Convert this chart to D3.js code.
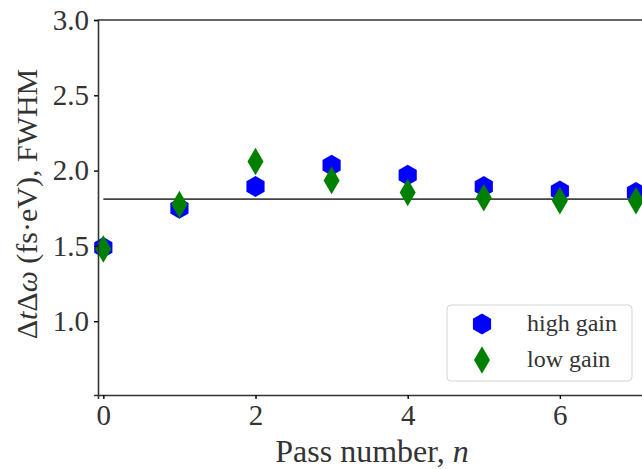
<!DOCTYPE html>
<html>
<head>
<meta charset="utf-8">
<script src="https://cdn.jsdelivr.net/npm/d3@7"></script>
<style>
  body { margin: 0; background: #fff; }
  text { font-family: "Liberation Serif", "DejaVu Serif", serif; }
</style>
</head>
<body>
<svg id="chart" width="642" height="469"></svg>
<script>
// data
const passes = [0, 1, 2, 3, 4, 5, 6, 7];
const highGain = [1.49, 1.75, 1.895, 2.035, 1.97, 1.895, 1.865, 1.855];
const lowGain = [1.48, 1.775, 2.06, 1.935, 1.855, 1.82, 1.80, 1.80];
const refLevel = 1.81;
const xTicks = [0, 2, 4, 6];
const yTicks = [1.0, 1.5, 2.0, 2.5, 3.0];

const svg = d3.select('#chart');

const x = d3.scaleLinear().domain([-0.07, 7.5]).range([98, 674]);
const y = d3.scaleLinear().domain([0.51, 3.0]).range([395, 20]);

const axisColor = '#333';

// custom marker shapes (matplotlib 'h' and thin 'd')
const hexagon = {
    draw(ctx, size) {
        const r = Math.sqrt(size);
        for (let i = 0; i < 6; i++) {
            const a = Math.PI / 2 + i * Math.PI / 3;
            const px = r * Math.cos(a), py = -r * Math.sin(a);
            if (i === 0) ctx.moveTo(px, py); else ctx.lineTo(px, py);
        }
        ctx.closePath();
    }
};
const thinDiamond = {
    draw(ctx, size) {
        const r = Math.sqrt(size);
        ctx.moveTo(0, -r);
        ctx.lineTo(r * 0.58, 0);
        ctx.lineTo(0, r);
        ctx.lineTo(-r * 0.58, 0);
        ctx.closePath();
    }
};

// top spine
svg.append('line')
    .attr('x1', x.range()[0]).attr('x2', x.range()[1])
    .attr('y1', y(3.0)).attr('y2', y(3.0))
    .attr('stroke', axisColor).attr('stroke-width', 1.6);

// reference line
svg.append('line')
    .attr('x1', x(0)).attr('x2', x(7.5))
    .attr('y1', y(refLevel)).attr('y2', y(refLevel))
    .attr('stroke', '#444').attr('stroke-width', 1.8);

// markers
const hiPts = passes.map((p, i) => ({ p, v: highGain[i] }));
const loPts = passes.map((p, i) => ({ p, v: lowGain[i] }));

svg.append('g').selectAll('path')
    .data(hiPts)
    .join('path')
    .attr('transform', d => `translate(${x(d.p)},${y(d.v)})`)
    .attr('d', d3.symbol().type(hexagon).size(110))
    .attr('fill', '#0000ff');

svg.append('g').selectAll('path')
    .data(loPts)
    .join('path')
    .attr('transform', d => `translate(${x(d.p)},${y(d.v)})`)
    .attr('d', d3.symbol().type(thinDiamond).size(190))
    .attr('fill', '#008000');

// axes
const yAxis = svg.append('g')
    .attr('transform', `translate(${x.range()[0]},0)`)
    .call(d3.axisLeft(y).tickValues(yTicks).tickFormat(d3.format('.1f')).tickSize(4).tickPadding(5));
const xAxis = svg.append('g')
    .attr('transform', `translate(0,${y.range()[0]})`)
    .call(d3.axisBottom(x).tickValues(xTicks).tickFormat(d3.format('d')).tickSize(4).tickPadding(5));

[yAxis, xAxis].forEach(ax => {
    ax.select('.domain').attr('stroke', axisColor).attr('stroke-width', 1.6);
    ax.selectAll('.tick line').attr('stroke', '#000').attr('stroke-width', 1.4);
    ax.selectAll('.tick text')
        .attr('fill', '#333')
        .style('font-size', '29px')
        .style('font-family', '"Liberation Serif", serif');
});
xAxis.selectAll('.tick text').attr('dy', '0.72em');

// axis labels
svg.append('text')
    .attr('x', 372).attr('y', 462)
    .attr('text-anchor', 'middle')
    .attr('fill', '#333')
    .style('font-size', '32px')
    .html('Pass number, <tspan font-style="italic">n</tspan>');

svg.append('text')
    .attr('transform', 'translate(37,204) rotate(-90)')
    .attr('text-anchor', 'middle')
    .attr('fill', '#333')
    .style('font-size', '30px')
    .html('Δ<tspan font-style="italic">t</tspan>Δ<tspan font-style="italic">ω</tspan> (fs·eV), FWHM');

// legend
const legend = svg.append('g');
legend.append('rect')
    .attr('x', 447).attr('y', 305).attr('width', 185).attr('height', 76)
    .attr('rx', 4)
    .attr('fill', '#fff').attr('fill-opacity', 0.8)
    .attr('stroke', '#d5d5d5').attr('stroke-width', 1);

const legendItems = [
    { label: 'high gain', shape: hexagon, size: 110, color: '#0000ff' },
    { label: 'low gain', shape: thinDiamond, size: 190, color: '#008000' }
];
legendItems.forEach((it, i) => {
    const cy = 324 + i * 36;
    legend.append('path')
        .attr('transform', `translate(482,${cy})`)
        .attr('d', d3.symbol().type(it.shape).size(it.size))
        .attr('fill', it.color);
    legend.append('text')
        .attr('x', 527).attr('y', cy + 7)
        .attr('fill', '#333')
        .style('font-size', '24px')
        .text(it.label);
});
</script>
</body>
</html>
